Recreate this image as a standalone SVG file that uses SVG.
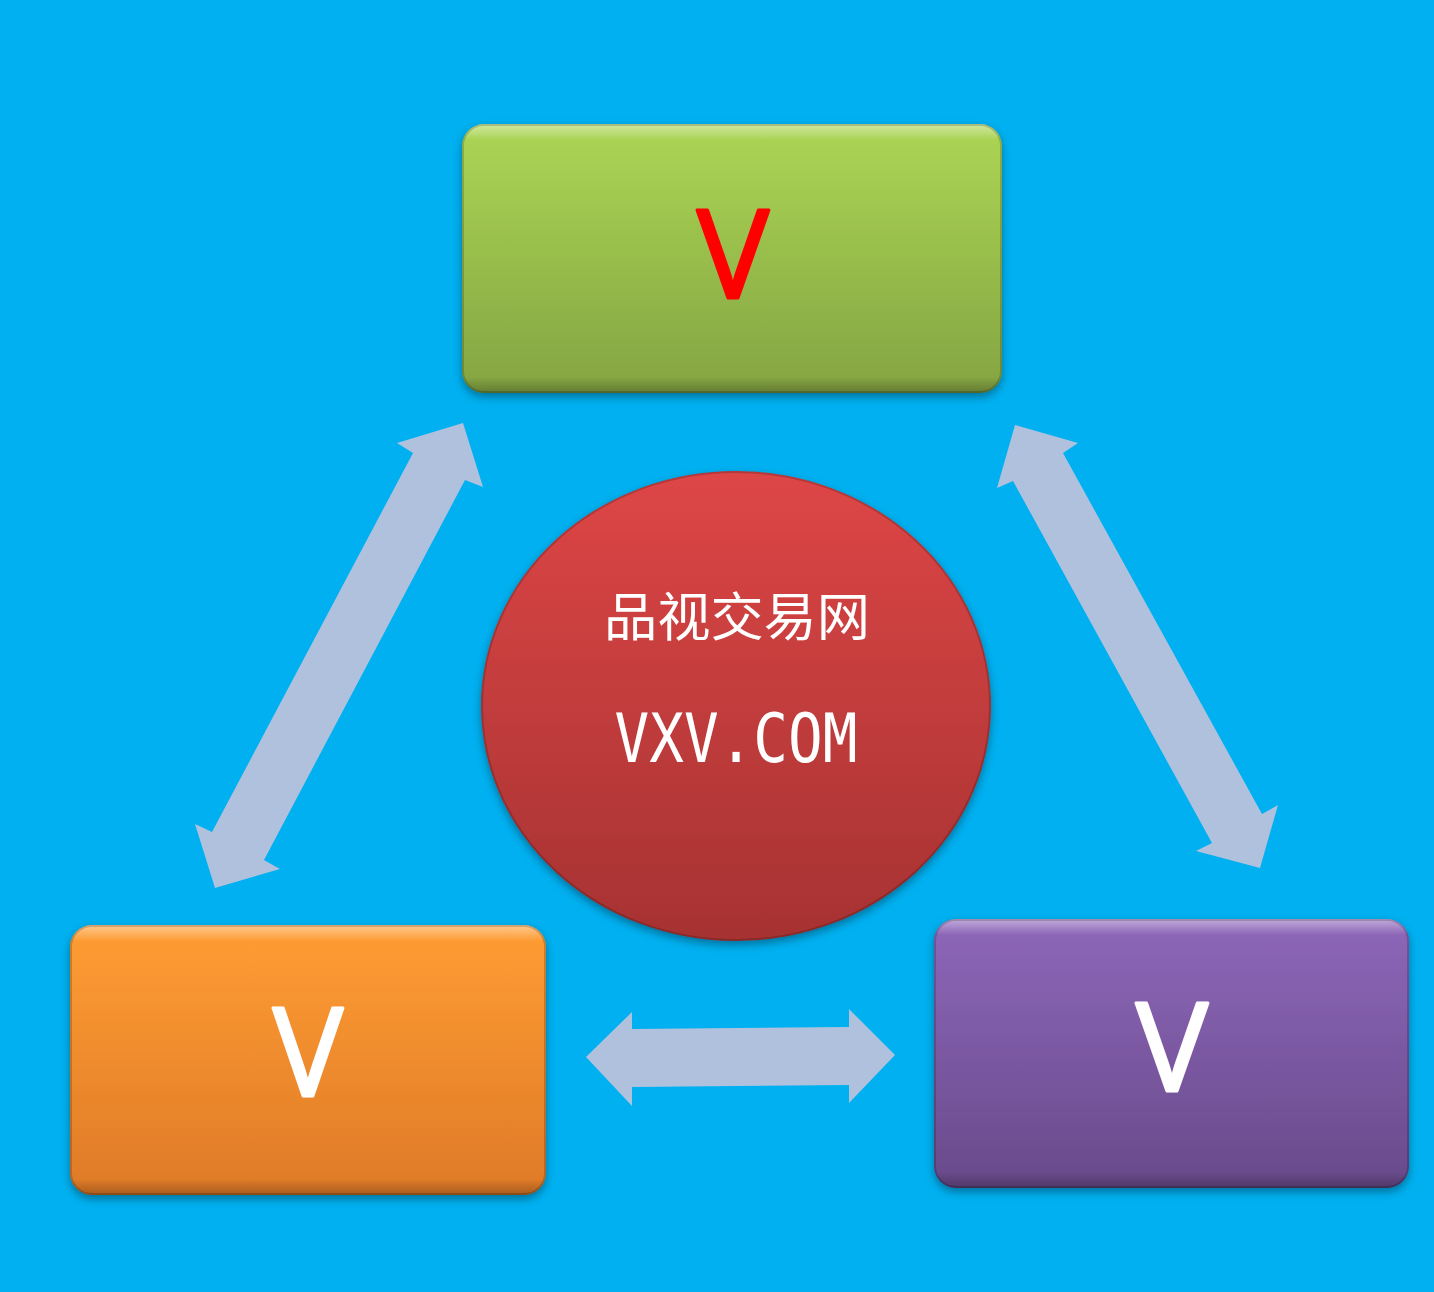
<svg xmlns="http://www.w3.org/2000/svg" width="1434" height="1292" viewBox="0 0 1434 1292">
<defs>
<linearGradient id="gGreen" x1="0" y1="0" x2="0" y2="1"><stop offset="0" stop-color="#acd655"/><stop offset="1" stop-color="#84a442"/></linearGradient>
<linearGradient id="gOrange" x1="0" y1="0" x2="0" y2="1"><stop offset="0" stop-color="#ff9d33"/><stop offset="1" stop-color="#df7a28"/></linearGradient>
<linearGradient id="gPurple" x1="0" y1="0" x2="0" y2="1"><stop offset="0" stop-color="#8e67ba"/><stop offset="1" stop-color="#684a8a"/></linearGradient>
<linearGradient id="gRed" x1="0" y1="0" x2="0" y2="1"><stop offset="0" stop-color="#de4646"/><stop offset="1" stop-color="#a63232"/></linearGradient>
<linearGradient id="gHi" x1="0" y1="0" x2="0" y2="1"><stop offset="0" stop-color="#ffffff" stop-opacity="0.45"/><stop offset="0.06" stop-color="#ffffff" stop-opacity="0"/><stop offset="0.94" stop-color="#000000" stop-opacity="0"/><stop offset="1" stop-color="#000000" stop-opacity="0.25"/></linearGradient>
<filter id="shadow" x="-10%" y="-10%" width="120%" height="125%"><feDropShadow dx="0" dy="4" stdDeviation="4" flood-color="#000" flood-opacity="0.35"/></filter>
</defs>
<style>
.arrow{fill:#b0c1de}
.lbl{font-family:"Open Sans","Liberation Sans",sans-serif;font-size:122px;text-anchor:middle;stroke-width:3;stroke-linejoin:round}
.cn{font-family:"Noto Sans CJK SC",sans-serif;fill:#fff;text-anchor:middle}
.mono{font-family:"DejaVu Sans Mono","Noto Sans CJK SC",monospace;fill:#fff;text-anchor:middle}
.edge{fill:none;stroke:#000;stroke-opacity:0.18;stroke-width:2}
</style>
<rect width="1434" height="1292" fill="#00b0f0"/>
<g id="connectors">
<polygon class="arrow" points="463,423 483,487 465,480 264,860 280,869 215,888 195,824 212,832 413,453 397,443"/>
<polygon class="arrow" points="1015,425 1078,443 1063,453 1262,814 1278,805 1260,868 1196,851 1212,843 1013,481 997,488"/>
<polygon class="arrow" points="586,1057 632,1012 632,1029 849,1027 849,1009 895,1055 849,1103 849,1085 632,1087 632,1106"/>
</g>
<g id="node-top" filter="url(#shadow)">
<rect x="462" y="124" width="540" height="269" rx="22" fill="url(#gGreen)"/>
<rect x="462" y="124" width="540" height="269" rx="22" fill="url(#gHi)"/>
<rect x="463" y="125" width="538" height="267" rx="21" class="edge"/>
<text x="733" y="298" class="lbl" fill="#ff0000" stroke="#ff0000" textLength="72" lengthAdjust="spacingAndGlyphs">V</text>
</g>
<g id="node-left" filter="url(#shadow)">
<rect x="70" y="925" width="476" height="270" rx="22" fill="url(#gOrange)"/>
<rect x="70" y="925" width="476" height="270" rx="22" fill="url(#gHi)"/>
<rect x="71" y="926" width="474" height="268" rx="21" class="edge"/>
<text x="308" y="1096" class="lbl" fill="#ffffff" stroke="#ffffff" textLength="70" lengthAdjust="spacingAndGlyphs">V</text>
</g>
<g id="node-right" filter="url(#shadow)">
<rect x="934" y="919" width="475" height="269" rx="22" fill="url(#gPurple)"/>
<rect x="934" y="919" width="475" height="269" rx="22" fill="url(#gHi)"/>
<rect x="935" y="920" width="473" height="267" rx="21" class="edge"/>
<text x="1172" y="1091" class="lbl" fill="#ffffff" stroke="#ffffff" textLength="72" lengthAdjust="spacingAndGlyphs">V</text>
</g>
<g id="node-center" filter="url(#shadow)">
<ellipse cx="736" cy="706" rx="255" ry="235" fill="url(#gRed)"/>
<ellipse cx="736" cy="706" rx="254" ry="234" class="edge"/>
<text x="737" y="636" class="cn" font-size="52" textLength="266" lengthAdjust="spacingAndGlyphs">品视交易网</text>
<text x="736" y="762" class="mono" font-size="67" textLength="243" lengthAdjust="spacingAndGlyphs">VXV.COM</text>
</g>
</svg>
